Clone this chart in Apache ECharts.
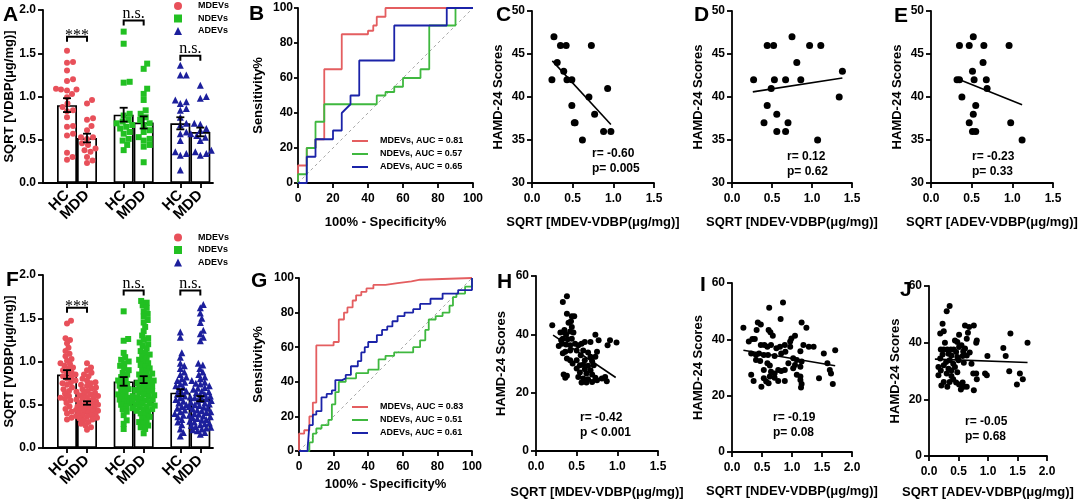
<!DOCTYPE html>
<html><head><meta charset="utf-8">
<script src="https://cdn.jsdelivr.net/npm/echarts@6/dist/echarts.min.js"></script>
<style>html,body{margin:0;padding:0;background:#fff}#c{width:1080px;height:502px}</style>
</head><body><div id="c"></div>
<script>
const FONT = '"Liberation Sans", Arial, sans-serif';
const SERIF = '"Liberation Serif", "Times New Roman", serif';

// ---------- DATA ----------
const groupNames = ['MDEVs', 'NDEVs', 'ADEVs'];
const barLabels = ['HC', 'MDD'];
const dotColors = ['#e8505a', '#22c022', '#1c1f9c'];
const rocColors = ['#e45e60', '#3fb83f', '#1b23a8'];

// Panel A
const A_mean = [0.90, 0.52, 0.79, 0.70, 0.69, 0.59];
const A_sem = [0.08, 0.05, 0.08, 0.07, 0.07, 0.05];
const A_MDEV_HC = [1.53,1.39,1.40,1.30,1.20,1.18,1.09,1.08,1.08,1.07,1.03,0.99,0.92,0.88,0.83,0.84,0.76,0.66,0.65,0.57,0.55,0.35,0.27,0.30];
const A_MDEV_MDD = [0.96,0.92,0.75,0.73,0.66,0.61,0.53,0.53,0.51,0.46,0.44,0.40,0.38,0.36,0.30,0.26,0.23];
const A_NDEV_HC = [1.75,1.61,1.17,1.16,0.80,0.78,0.73,0.71,0.69,0.67,0.65,0.63,0.59,0.57,0.51,0.49,0.44,0.38];
const A_NDEV_MDD = [1.38,1.32,1.09,1.03,0.96,0.84,0.80,0.76,0.73,0.69,0.67,0.61,0.59,0.53,0.51,0.49,0.44,0.42,0.24];
const A_ADEV_HC = [1.36,1.25,1.25,0.96,0.94,0.92,0.86,0.84,0.76,0.69,0.67,0.59,0.57,0.49,0.36,0.34,0.32,0.15];
const A_ADEV_MDD = [1.13,1.00,0.98,0.69,0.68,0.63,0.61,0.57,0.55,0.53,0.49,0.38,0.36,0.34,0.32];
const A_sigText = ['***', 'n.s.', 'n.s.'];
const A_sigY = [1.69, 1.88, 1.47];

// Panel F
const F_mean = [0.85, 0.52, 0.77, 0.79, 0.64, 0.57];
const F_sem = [0.05, 0.02, 0.05, 0.04, 0.04, 0.03];
const F_MDEV_HC = [1.47,1.44,1.27,1.25,1.21,1.16,1.12,1.09,1.06,1.03,1.01,0.98,0.97,0.95,0.93,0.92,0.90,0.88,0.87,0.85,0.83,0.82,0.80,0.78,0.76,0.75,0.73,0.70,0.68,0.66,0.63,0.60,0.58,0.57,0.55,0.52,0.48,0.45,0.42,0.40,0.35,0.33];
const F_MDEV_MDD = [0.98,0.93,0.90,0.87,0.85,0.83,0.80,0.78,0.76,0.75,0.73,0.72,0.70,0.69,0.68,0.66,0.65,0.64,0.63,0.62,0.61,0.60,0.59,0.58,0.57,0.56,0.55,0.54,0.53,0.52,0.51,0.50,0.50,0.49,0.48,0.47,0.46,0.45,0.45,0.44,0.43,0.42,0.42,0.41,0.40,0.39,0.38,0.38,0.37,0.36,0.35,0.34,0.33,0.32,0.30,0.28,0.26,0.24,0.21];
const F_NDEV_HC = [1.58,1.26,1.24,1.10,1.05,1.02,1.00,0.98,0.95,0.92,0.90,0.87,0.85,0.82,0.80,0.78,0.76,0.74,0.72,0.70,0.68,0.66,0.64,0.62,0.60,0.58,0.56,0.54,0.52,0.50,0.48,0.45,0.42,0.38,0.32,0.28,0.22];
const F_NDEV_MDD = [1.70,1.68,1.65,1.62,1.58,1.55,1.52,1.48,1.45,1.40,1.35,1.30,1.27,1.25,1.22,1.20,1.18,1.15,1.12,1.10,1.08,1.06,1.04,1.02,1.00,0.98,0.96,0.94,0.92,0.90,0.88,0.86,0.85,0.84,0.82,0.80,0.79,0.78,0.76,0.75,0.74,0.72,0.71,0.70,0.68,0.67,0.66,0.65,0.64,0.62,0.61,0.60,0.59,0.58,0.57,0.56,0.55,0.54,0.53,0.52,0.51,0.50,0.49,0.48,0.47,0.46,0.45,0.44,0.43,0.42,0.40,0.38,0.36,0.34,0.32,0.30,0.28,0.26,0.24,0.22,0.17];
const F_ADEV_HC = [1.34,1.28,1.10,1.05,0.98,0.95,0.92,0.88,0.85,0.82,0.80,0.78,0.76,0.74,0.72,0.70,0.68,0.66,0.64,0.62,0.60,0.58,0.56,0.54,0.52,0.50,0.48,0.46,0.44,0.42,0.40,0.38,0.36,0.33,0.30,0.27,0.22,0.18,0.14];
const F_ADEV_MDD = [1.66,1.62,1.56,1.50,1.45,1.36,1.32,1.28,1.24,0.98,0.96,0.92,0.88,0.85,0.82,0.80,0.78,0.76,0.75,0.74,0.72,0.70,0.69,0.68,0.66,0.65,0.64,0.62,0.61,0.60,0.59,0.58,0.57,0.56,0.55,0.54,0.53,0.52,0.51,0.50,0.49,0.48,0.47,0.46,0.45,0.44,0.43,0.42,0.41,0.40,0.39,0.38,0.37,0.36,0.35,0.34,0.33,0.32,0.31,0.30,0.29,0.28,0.27,0.26,0.25,0.24,0.23,0.22,0.21,0.20,0.18,0.16];
const F_sigText = ['***', 'n.s.', 'n.s.'];
const F_sigY = [1.62, 1.82, 1.82];

// Panel B ROC
const B_MDEV = [[0,0],[0,10],[5,10],[5,20],[10,20],[10,25],[15,25],[15,65],[25,65],[25,85],[40,85],[40,87],[43,87],[43,90],[45,90],[45,95],[50,95],[50,100],[100,100]];
const B_NDEV = [[0,0],[0,5],[5,5],[5,20],[10,20],[10,35],[15,35],[15,45],[45,45],[45,50],[50,50],[50,52],[55,52],[55,55],[60,55],[60,60],[70,60],[70,65],[75,65],[75,90],[90,90],[90,100],[100,100]];
const B_ADEV = [[0,0],[5,0],[5,15],[10,15],[10,25],[20,25],[20,30],[25,30],[25,40],[27,42],[30,45],[30,50],[35,50],[35,70],[55,70],[55,90],[85,90],[85,100],[100,100]];
const B_auc = ['0.81', '0.57', '0.65'];

// Panel G ROC
const G_MDEV = [[0,0],[0,10],[3,10],[3,12],[6,12],[6,20],[8,20],[8,28],[10,28],[10,61],[20,61],[20,63],[23,63],[23,76],[26,76],[26,80],[28,80],[28,83],[31,83],[31,87],[33,87],[33,90],[36,90],[36,92],[39,92],[39,94],[43,94],[43,96],[50,96],[50,97],[57,97],[57,98],[65,98],[65,99],[70,99],[70,100],[100,100]];
const G_NDEV = [[0,0],[6,0],[6,5],[8,5],[8,10],[10,10],[10,13],[13,13],[13,15],[17,15],[17,18],[19,18],[19,27],[21,27],[21,34],[23,34],[23,40],[27,40],[27,42],[33,42],[33,45],[40,45],[40,47],[46,47],[46,53],[50,53],[50,55],[55,55],[55,57],[66,57],[66,60],[70,60],[70,64],[73,64],[73,70],[75,70],[75,76],[79,76],[79,78],[83,78],[83,80],[87,80],[87,84],[89,84],[89,89],[91,89],[91,91],[96,91],[96,95],[100,95],[100,100]];
const G_ADEV = [[0,0],[5,0],[5,2],[6,2],[6,15],[8,15],[8,21],[10,21],[10,23],[13,23],[13,31],[16,31],[16,33],[19,33],[19,35],[21,35],[21,41],[25,41],[25,42],[27,42],[27,44],[30,44],[30,49],[34,49],[34,52],[36,52],[36,57],[38,57],[38,60],[40,60],[40,63],[45,63],[45,67],[48,67],[48,70],[51,70],[51,72],[54,72],[54,75],[57,75],[57,78],[61,78],[61,80],[66,80],[66,82],[70,82],[70,85],[76,85],[76,88],[83,88],[83,91],[92,91],[92,93],[100,93],[100,100]];
const G_auc = ['0.83', '0.51', '0.61'];

// Correlation panels
const C_pts = [[0.27,47],[0.245,42],[0.31,44],[0.35,46],[0.42,46],[0.39,43],[0.43,42],[0.49,42],[0.49,39],[0.52,37],[0.53,37],[0.62,35],[0.70,40],[0.73,46],[0.77,38],[0.93,41],[0.88,36],[0.97,36]];
const C_fit = [[0.25,44.2],[0.97,36.8]];
const C_stat = ['r= -0.60', 'p= 0.005'];

const D_pts = [[0.27,42],[0.44,46],[0.52,46],[0.75,47],[0.97,46],[1.11,46],[0.81,44],[0.53,42],[0.67,42],[0.86,42],[0.49,41],[0.44,39],[0.40,37],[0.56,38],[0.56,36],[0.70,37],[0.67,36],[1.07,35],[1.34,40],[1.38,43]];
const D_fit = [[0.26,40.6],[1.38,42.2]];
const D_stat = ['r= 0.12', 'p= 0.62'];

const E_pts = [[0.35,46],[0.47,46],[0.52,47],[0.65,46],[0.96,46],[0.64,44],[0.51,43],[0.32,42],[0.35,42],[0.53,42],[0.68,42],[0.69,41],[0.38,40],[0.55,39],[0.47,37],[0.52,38],[0.98,37],[0.51,36],[0.55,36],[1.12,35]];
const E_fit = [[0.30,42.2],[1.12,39.1]];
const E_stat = ['r= -0.23', 'p= 0.33'];

const H_pts = [[0.38,53.1],[0.33,51.1],[0.38,47.1],[0.44,46.2],[0.47,46.2],[0.20,43.1],[0.43,44.5],[0.44,42.5],[0.42,41.0],[0.34,40.8],[0.30,40.6],[0.37,39.9],[0.46,40.6],[0.33,38.5],[0.39,38.3],[0.44,38.5],[0.32,36.8],[0.37,36.5],[0.42,36.3],[0.48,36.8],[0.52,36.3],[0.56,36.8],[0.60,37.4],[0.67,37.4],[0.73,39.9],[0.77,38.0],[0.88,36.3],[0.91,38.0],[0.99,37.2],[0.50,34.5],[0.58,34.5],[0.42,34.5],[0.36,34.0],[0.64,33.8],[0.75,34.0],[0.55,32.8],[0.67,32.3],[0.73,32.3],[0.38,31.7],[0.42,31.1],[0.50,31.1],[0.60,31.1],[0.69,30.8],[0.58,29.6],[0.54,29.4],[0.64,29.2],[0.71,29.4],[0.50,28.3],[0.60,28.0],[0.67,27.7],[0.54,26.9],[0.62,26.6],[0.69,26.2],[0.34,26.2],[0.38,25.8],[0.36,25.1],[0.52,25.4],[0.58,24.9],[0.64,24.6],[0.73,25.1],[0.81,24.9],[0.87,23.9],[0.56,23.5],[0.62,23.5],[0.69,23.7],[0.75,24.3],[0.85,25.4],[0.28,36.0],[0.31,38.0],[0.35,41.5],[0.40,44.0],[0.45,30.0],[0.33,33.5]];
const H_fit = [[0.21,39.7],[0.98,25.2]];
const H_stat = ['r= -0.42', 'p < 0.001'];

const I_pts = [[0.19,44.1],[0.43,46],[0.48,45.3],[0.62,51.2],[0.85,53.1],[0.81,47.2],[1.16,46],[1.24,44.1],[0.41,43.3],[0.61,43.3],[0.64,42.5],[0.68,41.3],[0.28,39.2],[0.34,40.1],[0.38,40.1],[0.99,40.3],[1.05,41.3],[0.97,39.2],[0.48,38],[0.54,38],[0.59,37.4],[0.65,38],[0.74,36.8],[0.80,37.4],[0.88,38],[0.97,37.4],[1.19,38],[1.28,37.4],[1.36,37.4],[1.14,35.8],[1.53,35],[1.72,36.1],[0.32,35],[0.40,34.4],[0.45,35],[0.53,34.4],[0.60,34.4],[0.71,34.1],[0.82,35],[0.89,35.6],[1.02,33.3],[1.08,32.7],[0.40,32.7],[0.47,32.3],[0.59,31.5],[0.63,30.7],[0.94,31.5],[1.05,30.9],[1.14,30.3],[1.16,32.1],[1.59,31.5],[1.63,29.1],[1.65,27.9],[0.77,29.1],[0.82,28.8],[0.88,29.1],[0.71,27.9],[0.65,28.5],[1.02,29.7],[1.08,27.4],[1.14,26.8],[0.32,27.4],[0.36,25.2],[0.53,26.2],[0.57,25],[0.61,24.4],[0.49,23.2],[0.77,25.2],[0.88,25.2],[1.14,25.6],[1.16,24.1],[1.15,22.9],[1.45,26.2],[1.68,24.1],[0.63,26.8],[0.71,26.4],[0.53,29.1]];
const I_fit = [[0.19,36.1],[1.72,30.6]];
const I_stat = ['r= -0.19', 'p= 0.08'];

const J_pts = [[0.35,52.9],[0.30,51.1],[0.23,46.7],[0.19,43.2],[0.25,44],[0.51,42.8],[0.61,46.1],[0.68,45.5],[0.76,46.1],[0.66,43.5],[0.64,41.4],[0.81,40.8],[0.80,40],[0.48,40.2],[0.55,39.1],[0.61,37.9],[0.69,36.5],[0.20,37.6],[0.25,37.6],[0.31,37.6],[0.37,37.6],[0.42,37.6],[0.46,36.7],[0.23,35.8],[0.33,36.1],[0.38,35.5],[0.48,34.9],[0.57,35.3],[0.50,33.8],[0.59,32.9],[0.19,34.4],[0.16,31.4],[0.25,32],[0.33,30.8],[0.38,30.2],[0.44,31.4],[0.48,29.6],[0.20,30.2],[0.30,29.1],[0.38,28.2],[0.16,28.5],[0.41,27.1],[0.35,26.1],[0.25,26.1],[0.21,24.9],[0.31,24.4],[0.46,25.9],[0.51,25.2],[0.57,25.9],[0.59,24.4],[0.54,23.5],[0.64,24.4],[0.76,23.2],[0.75,29.1],[0.80,29.1],[0.81,27.1],[0.64,35.5],[0.72,32.6],[0.95,29.1],[0.99,35.3],[0.98,28.5],[1.26,38.1],[1.30,35.3],[1.36,29.9],[1.38,43.2],[1.54,29.1],[1.49,25.2],[1.59,27.1],[1.67,40],[0.27,40],[0.44,40.8],[0.51,38.5],[0.58,36.9],[0.35,33.8],[0.29,33.2],[0.41,32.6]];
const J_fit = [[0.10,34.2],[1.67,33.0]];
const J_stat = ['r= -0.05', 'p= 0.68'];

// ---------- LAYOUT / BUILD ----------
const option = { animation: false, backgroundColor: '#fff', grid: [], xAxis: [], yAxis: [], series: [], legend: [], graphic: [] };

function axis(o) {
  return Object.assign({}, o, {
    axisLine: Object.assign({ show: true, onZero: false, lineStyle: { color: '#000', width: 1.8 } }, o.axisLine || {}),
    axisTick: Object.assign({ show: true, length: 5, lineStyle: { color: '#000', width: 1.8 } }, o.axisTick || {}),
    axisLabel: Object.assign({ color: '#000', fontWeight: 'bold', fontSize: 12, fontFamily: FONT, margin: 7 }, o.axisLabel || {}),
    splitLine: { show: false },
    nameLocation: 'middle',
    nameMoveOverlap: false,
    nameTextStyle: { color: '#000', fontWeight: 'bold', fontSize: 13, fontFamily: FONT }
  });
}
function addGrid(l, t, w, h) {
  option.grid.push({ left: l, top: t, width: w, height: h, containLabel: false, outerBoundsMode: 'none' });
  return option.grid.length - 1;
}
function text(str, x, y, font, align) {
  option.graphic.push({ type: 'text', x: x, y: y, silent: true,
    style: { text: str, font: font, fill: '#000', align: align || 'left', verticalAlign: 'middle' } });
}

function swarm(vals, pxPerUnit, d, maxHalf) {
  const order = vals.map((v, i) => i).sort((a, b) => vals[a] - vals[b]);
  const cands = [0];
  for (let s = 0.5; s <= maxHalf + 1e-9; s += 0.5) cands.push(s, -s);
  const placed = [], out = new Array(vals.length);
  order.forEach(i => {
    const y = vals[i] * pxPerUnit;
    let chosen = null, bestC = 0, bestD = -1;
    for (const c of cands) {
      let minD = Infinity;
      for (const p of placed) {
        const dy = p.y - y;
        if (Math.abs(dy) >= d) continue;
        const dd = Math.hypot(p.x - c, dy);
        if (dd < minD) minD = dd;
      }
      if (minD >= d) { chosen = c; break; }
      if (minD > bestD) { bestD = minD; bestC = c; }
    }
    if (chosen === null) chosen = bestC;
    placed.push({ x: chosen, y: y });
    out[i] = chosen;
  });
  return out;
}

function barPanel(g, means, sems, groups, sigText, sigY, dotD, legendTop) {
  const gi = addGrid(g.l, g.t, g.w, g.h);
  const xMin = -0.6, xMax = 2.4;
  const unitPx = g.w / (xMax - xMin);
  const half = 10 / unitPx;
  const pos = [];
  for (let k = 0; k < 3; k++) pos.push(k - half, k + half);
  // one x axis per bar label (HC / MDD) so the rotated labels never collide
  barLabels.forEach((lbl, s) => {
    const vals = [0, 1, 2].map(k => pos[2 * k + s]);
    option.xAxis.push(axis({ gridIndex: gi, type: 'value', position: 'bottom', offset: 0, min: xMin, max: xMax,
      axisLine: { show: s === 0 },
      axisTick: { customValues: vals },
      axisLabel: { customValues: vals, rotate: 45, fontSize: 15, margin: 10, interval: 0,
        showMinLabel: true, showMaxLabel: true, hideOverlap: false, formatter: () => lbl } }));
  });
  option.yAxis.push(axis({ gridIndex: gi, type: 'value', min: 0, max: 2, interval: 0.5,
    name: 'SQRT [VDBP(μg/mg)]', nameGap: 27, axisLabel: { formatter: v => v.toFixed(1) } }));
  const xi = option.xAxis.length - 2, yi = option.yAxis.length - 1;
  option.series.push({ type: 'bar', xAxisIndex: xi, yAxisIndex: yi, barWidth: 20, z: 1, silent: true,
    data: pos.map((p, i) => [p, means[i]]),
    itemStyle: { color: '#fff', borderColor: '#000', borderWidth: 1.7 } });
  const pxPerUnitY = g.h / 2;
  const symbols = ['circle', 'rect', 'triangle'];
  groups.forEach((pair, k) => {
    const data = [];
    pair.forEach((vals, s) => {
      const off = swarm(vals, pxPerUnitY, dotD, 11);
      vals.forEach((v, i) => data.push([pos[2 * k + s] + off[i] / unitPx, v]));
    });
    option.series.push({ type: 'scatter', name: groupNames[k], xAxisIndex: xi, yAxisIndex: yi, z: 2,
      symbol: symbols[k], symbolSize: k === 2 ? 7 : 6, data: data,
      itemStyle: { color: dotColors[k], opacity: 1 } });
  });
  option.series.push({ type: 'custom', xAxisIndex: xi, yAxisIndex: yi, z: 4, silent: true,
    encode: { x: 0, y: 1 },
    data: pos.map((p, i) => [p, means[i], sems[i]]),
    renderItem: (params, api) => {
      const x = api.value(0), m = api.value(1), s = api.value(2);
      const t = api.coord([x, m + s]), b = api.coord([x, m - s]);
      const st = { stroke: '#000', lineWidth: 1.8 };
      return { type: 'group', children: [
        { type: 'line', shape: { x1: t[0], y1: t[1], x2: b[0], y2: b[1] }, style: st },
        { type: 'line', shape: { x1: t[0] - 4, y1: t[1], x2: t[0] + 4, y2: t[1] }, style: st },
        { type: 'line', shape: { x1: b[0] - 4, y1: b[1], x2: b[0] + 4, y2: b[1] }, style: st } ] };
    } });
  option.series.push({ type: 'custom', xAxisIndex: xi, yAxisIndex: yi, z: 4, silent: true,
    encode: { x: [0, 1], y: 2 },
    data: [0, 1, 2].map(k => [pos[2 * k], pos[2 * k + 1], sigY[k]]),
    renderItem: (params, api) => {
      const a = api.coord([api.value(0), api.value(2)]), b = api.coord([api.value(1), api.value(2)]);
      const lbl = sigText[params.dataIndex];
      const dy = lbl === '***' ? 7 : 1;
      return { type: 'group', children: [
        { type: 'polyline', shape: { points: [[a[0], a[1] + 5], [a[0], a[1]], [b[0], b[1]], [b[0], b[1] + 5]] },
          style: { stroke: '#000', lineWidth: 2, fill: null } },
        { type: 'text', style: { text: lbl, x: (a[0] + b[0]) / 2, y: a[1] + dy, align: 'center', verticalAlign: 'bottom',
          font: '16px ' + SERIF, fill: '#000' } } ] };
    } });
  option.legend.push({ orient: 'vertical', left: 174, top: legendTop, padding: 0, itemWidth: 8, itemHeight: 8, itemGap: 3.5,
    selectedMode: false,
    textStyle: { fontSize: 9, fontWeight: 'bold', fontFamily: FONT, color: '#000', padding: [0, 0, 0, 11] },
    data: [{ name: 'MDEVs', icon: 'circle' }, { name: 'NDEVs', icon: 'rect' }, { name: 'ADEVs', icon: 'triangle' }] });
}

function rocPanel(g, curves, aucs, legendTop, yGap, xGap) {
  const gi = addGrid(g.l, g.t, g.w, g.h);
  option.xAxis.push(axis({ gridIndex: gi, type: 'value', position: 'bottom', min: 0, max: 100, interval: 20,
    name: '100% - Specificity%', nameGap: xGap, axisLabel: { margin: 10 } }));
  option.yAxis.push(axis({ gridIndex: gi, type: 'value', min: 0, max: 100, interval: 20,
    name: 'Sensitivity%', nameGap: yGap, axisTick: { length: 4 }, axisLabel: { margin: 5 } }));
  const xi = option.xAxis.length - 1, yi = option.yAxis.length - 1;
  option.series.push({ type: 'line', xAxisIndex: xi, yAxisIndex: yi, symbol: 'none', silent: true, z: 1,
    data: [[0, 0], [100, 100]], lineStyle: { color: '#a8a8a8', width: 1, type: [3, 3] } });
  const names = [];
  curves.forEach((c, k) => {
    const nm = groupNames[k] + ', AUC = ' + aucs[k];
    names.push({ name: nm, icon: 'rect' });
    option.series.push({ type: 'line', name: nm, xAxisIndex: xi, yAxisIndex: yi, symbol: 'none', z: 3,
      data: c, lineStyle: { color: rocColors[k], width: 1.8 }, itemStyle: { color: rocColors[k] } });
  });
  option.legend.push({ orient: 'vertical', left: 352, top: legendTop, padding: 0, itemWidth: 16, itemHeight: 2, itemGap: 4,
    selectedMode: false,
    textStyle: { fontSize: 9, fontWeight: 'bold', fontFamily: FONT, color: '#000', padding: [0, 0, 0, 7] },
    data: names });
}

function corrPanel(g, pts, fit, xMax, yMin, yMax, yInt, xName, stat, sx, sy, yGap, xGap, dot) {
  const gi = addGrid(g.l, g.t, g.w, g.h);
  option.xAxis.push(axis({ gridIndex: gi, type: 'value', position: 'bottom', min: 0, max: xMax, interval: 0.5,
    name: xName, nameGap: xGap, axisLabel: { margin: 10, formatter: v => v.toFixed(1) } }));
  option.yAxis.push(axis({ gridIndex: gi, type: 'value', min: yMin, max: yMax, interval: yInt,
    name: 'HAMD-24 Scores', nameGap: yGap }));
  const xi = option.xAxis.length - 1, yi = option.yAxis.length - 1;
  option.series.push({ type: 'scatter', xAxisIndex: xi, yAxisIndex: yi, symbol: 'circle', symbolSize: dot,
    data: pts, itemStyle: { color: '#000', opacity: 1 }, z: 2 });
  option.series.push({ type: 'line', xAxisIndex: xi, yAxisIndex: yi, symbol: 'none', data: fit, z: 3,
    lineStyle: { color: '#000', width: 1.6 } });
  text(stat[0], sx, sy, 'bold 12px ' + FONT);
  text(stat[1], sx, sy + 15, 'bold 12px ' + FONT);
}

barPanel({ l: 43, t: 10, w: 170, h: 173 }, A_mean, A_sem,
  [[A_MDEV_HC, A_MDEV_MDD], [A_NDEV_HC, A_NDEV_MDD], [A_ADEV_HC, A_ADEV_MDD]], A_sigText, A_sigY, 6, 1.5);
rocPanel({ l: 298, t: 8, w: 175, h: 175 }, [B_MDEV, B_NDEV, B_ADEV], B_auc, 136.5, 33, 33);
corrPanel({ l: 532, t: 11, w: 122, h: 172 }, C_pts, C_fit, 1.5, 30, 50, 5, 'SQRT [MDEV-VDBP(μg/mg)]', C_stat, 592, 154, 27, 33, 7);
corrPanel({ l: 732, t: 11, w: 120, h: 172 }, D_pts, D_fit, 1.5, 30, 50, 5, 'SQRT [NDEV-VDBP(μg/mg)]', D_stat, 787, 157, 27, 33, 7);
corrPanel({ l: 931, t: 11, w: 122, h: 172 }, E_pts, E_fit, 1.5, 30, 50, 5, 'SQRT [ADEV-VDBP(μg/mg)]', E_stat, 972, 157, 27, 33, 7);

barPanel({ l: 43, t: 275, w: 170, h: 173 }, F_mean, F_sem,
  [[F_MDEV_HC, F_MDEV_MDD], [F_NDEV_HC, F_NDEV_MDD], [F_ADEV_HC, F_ADEV_MDD]], F_sigText, F_sigY, 4.5, 233);
rocPanel({ l: 299, t: 278, w: 173, h: 173 }, [G_MDEV, G_NDEV, G_ADEV], G_auc, 402.5, 34, 27);
corrPanel({ l: 536, t: 276, w: 122, h: 175 }, H_pts, H_fit, 1.5, 0, 60, 20, 'SQRT [MDEV-VDBP(μg/mg)]', H_stat, 580, 418, 28, 35, 6);
corrPanel({ l: 732, t: 283, w: 120, h: 169 }, I_pts, I_fit, 2.0, 0, 60, 20, 'SQRT [NDEV-VDBP(μg/mg)]', I_stat, 773, 418, 27, 33, 6);
corrPanel({ l: 929, t: 286, w: 118, h: 170 }, J_pts, J_fit, 2.0, 0, 60, 20, 'SQRT [ADEV-VDBP(μg/mg)]', J_stat, 965, 422, 27, 30, 6);

// panel letters
const letterFont = 'bold 21px ' + FONT;
[['A', 3, 15], ['B', 249, 14], ['C', 496, 15], ['D', 694, 15], ['E', 894, 16],
 ['F', 6, 280], ['G', 251, 281], ['H', 497, 282], ['I', 700, 285], ['J', 900, 290]]
  .forEach(l => text(l[0], l[1], l[2], letterFont));

const chart = echarts.init(document.getElementById('c'), null, { renderer: 'canvas' });
chart.setOption(option);
</script>
</body></html>
